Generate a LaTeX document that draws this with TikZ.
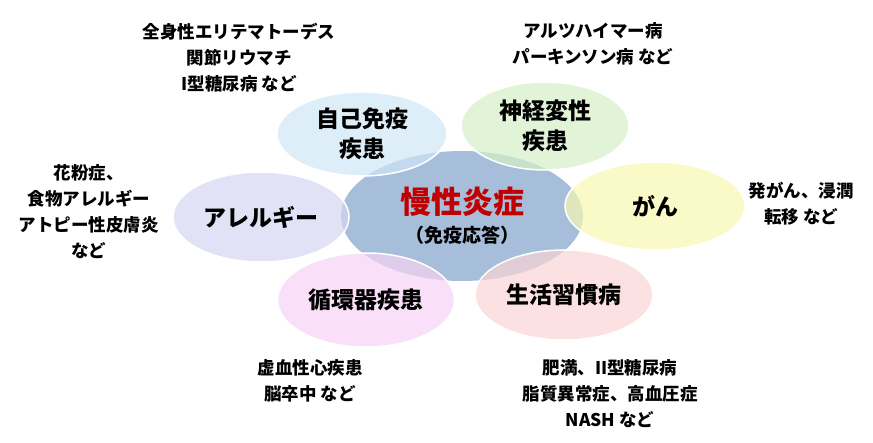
\documentclass[tikz,border=0pt]{standalone}
\usepackage{fontspec}
\setmainfont{Noto Sans CJK JP}
\usetikzlibrary{shapes.geometric}
\definecolor{coreblue}{RGB}{167,190,219}
\definecolor{corered}{RGB}{192,0,0}
\definecolor{skyfill}{RGB}{207,231,247}
\definecolor{greenfill}{RGB}{214,240,200}
\definecolor{yellowfill}{RGB}{248,248,178}
\definecolor{rosefill}{RGB}{250,212,212}
\definecolor{magentafill}{RGB}{246,210,243}
\definecolor{lavenderfill}{RGB}{214,214,242}
\tikzset{
  petal/.style={ellipse, draw=white, line width=1.5pt, fill opacity=0.7, text opacity=1,
    inner sep=0pt, align=center, font=\fontsize{23}{30}\selectfont\bfseries},
  note/.style={align=center, inner sep=0pt, font=\fontsize{17.5}{26}\selectfont\bfseries},
}

\begin{document}
\begin{tikzpicture}[x=1pt,y=1pt,yscale=-1]
\useasboundingbox (0,0) rectangle (873,443);

%Shape: Ellipse [center]
\node[ellipse, fill=coreblue, inner sep=0pt, minimum width=242pt, minimum height=130pt, align=center] (chronic) at (462,216)
  {\fontsize{31}{34}\selectfont\bfseries\color{corered}慢性炎症\\[9pt]
   \fontsize{19}{22}\selectfont\bfseries （免疫応答）};

%Shape: Ellipse [petals]
\node[petal, fill=skyfill, minimum width=170pt, minimum height=84pt] (autoimmune) at (362,134) {自己免疫\\疾患};
\node[petal, fill=greenfill, minimum width=168pt, minimum height=88pt] (neuro) at (545,126) {神経変性\\疾患};
\node[petal, fill=yellowfill, minimum width=180pt, minimum height=88pt] (cancer) at (655,206) {がん};
\node[petal, fill=rosefill, minimum width=178pt, minimum height=90pt] (lifestyle) at (564,295) {生活習慣病};
\node[petal, fill=magentafill, minimum width=177pt, minimum height=94pt] (circulatory) at (366,300) {循環器疾患};
\node[petal, fill=lavenderfill, minimum width=176pt, minimum height=90pt] (allergy) at (261,217) {アレルギー};

% Text Node
\node[note] (autoimmunenote) at (239,58) {全身性エリテマトーデス\\関節リウマチ\\I型糖尿病 など};
% Text Node
\node[note] (neuronote) at (593,44) {アルツハイマー病\\パーキンソン病 など};
% Text Node
\node[note] (allergynote) at (89,212) {花粉症、\\食物アレルギー\\アトピー性皮膚炎\\など};
% Text Node
\node[note] (cancernote) at (801,204) {発がん、浸潤\\転移 など};
% Text Node
\node[note] (circulatorynote) at (310,381) {虚血性心疾患\\脳卒中 など};
% Text Node
\node[note] (lifestylenote) at (610,394) {肥満、II型糖尿病\\脂質異常症、高血圧症\\NASH など};

\end{tikzpicture}
\end{document}
